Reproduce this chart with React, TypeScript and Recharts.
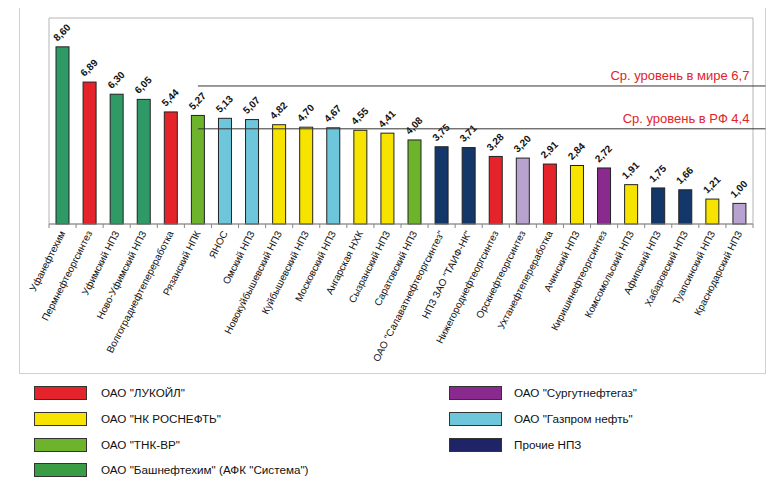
import React from "react";
import { BarChart, Bar, XAxis, YAxis, Cell, ReferenceLine, ReferenceArea } from "recharts";

const categories = [
  "Уфанефтехим",
  "Пермнефтеоргсинтез",
  "Уфимский НПЗ",
  "Ново-Уфимский НПЗ",
  "Волгограднефтепереработка",
  "Рязанский НПК",
  "ЯНОС",
  "Омский НПЗ",
  "Новокуйбышевский НПЗ",
  "Куйбышевский НПЗ",
  "Московский НПЗ",
  "Ангарская НХК",
  "Сызранский НПЗ",
  "Саратовский НПЗ",
  "ОАО \"Салаватнефтеоргсинтез\"",
  "НПЗ ЗАО \"ТАИФ-НК\"",
  "Нижегороднефтеоргсинтез",
  "Орскнефтеоргсинтез",
  "Ухтанефтепереработка",
  "Ачинский НПЗ",
  "Киришинефтеоргсинтез",
  "Комсомольский НПЗ",
  "Афипский НПЗ",
  "Хабаровский НПЗ",
  "Туапсинский НПЗ",
  "Краснодарский НПЗ",
];

const values = [
  8.6, 6.89, 6.3, 6.05, 5.44, 5.27, 5.13, 5.07, 4.82, 4.7, 4.67, 4.55, 4.41,
  4.08, 3.75, 3.71, 3.28, 3.2, 2.91, 2.84, 2.72, 1.91, 1.75, 1.66, 1.21, 1.0,
];

const groups = [
  "bash", "luk", "bash", "bash", "luk", "tnk", "gpn", "gpn", "ros", "ros",
  "gpn", "ros", "ros", "tnk", "other", "other", "luk", "lav", "luk", "ros",
  "surg", "ros", "other", "other", "ros", "lav",
];

const worldLevel = 6.7;
const worldLabel = "Ср. уровень в мире 6,7";
const rfLevel = 4.62;
const rfLabel = "Ср. уровень в РФ 4,4";

const legendLeft = [
  { name: "ОАО \"ЛУКОЙЛ\"", key: "luk" },
  { name: "ОАО \"НК РОСНЕФТЬ\"", key: "ros" },
  { name: "ОАО \"ТНК-ВР\"", key: "tnk" },
  { name: "ОАО \"Башнефтехим\" (АФК \"Система\")", key: "bashLegend" },
];
const legendRight = [
  { name: "ОАО \"Сургутнефтегаз\"", key: "surg" },
  { name: "ОАО \"Газпром нефть\"", key: "gpn" },
  { name: "Прочие НПЗ", key: "otherLegend" },
];

const colors: Record<string, string> = {
  bash: "#2f9a66",
  bashLegend: "#3a9c45",
  luk: "#e4242a",
  tnk: "#6db32c",
  gpn: "#6ec6da",
  ros: "#f6e400",
  other: "#14376a",
  otherLegend: "#1e2466",
  surg: "#8a2a8e",
  lav: "#b8a2cf",
};

const data = categories.map((name, i) => ({ name, value: values[i], group: groups[i] }));

const FONT = "'Liberation Sans', Arial, sans-serif";

const XTick = (props: any) => {
  const { x, y, payload, index } = props;
  const off = payload && payload.offset ? payload.offset : 13.5;
  const tx = x + 3;
  const ty = y + 9;
  return (
    <g>
      <line x1={x - off} y1={y} x2={x - off} y2={y + 4} stroke="#888" />
      {index === categories.length - 1 && (
        <line x1={x + off} y1={y} x2={x + off} y2={y + 4} stroke="#888" />
      )}
      <text
        x={tx}
        y={ty}
        transform={`rotate(-63 ${tx} ${ty})`}
        textAnchor="end"
        fontSize={10}
        fontFamily={FONT}
        fill="#111"
      >
        {payload.value}
      </text>
    </g>
  );
};

const BarWithLabel = (props: any) => {
  const { x, y, width, height, payload } = props;
  const tx = x + width / 2 - 5;
  const ty = y - 5;
  return (
    <g>
      <rect
        x={x}
        y={y}
        width={width}
        height={height}
        fill={colors[payload.group]}
        stroke="#222"
        strokeWidth={1}
      />
      <text
        x={tx}
        y={ty}
        transform={`rotate(-45 ${tx} ${ty})`}
        fontSize={10}
        fontWeight="bold"
        fontFamily={FONT}
        fill="#111"
      >
        {Number(payload.value).toFixed(2).replace(".", ",")}
      </text>
    </g>
  );
};

const makeLevelShape = (label: string) => (p: any) => (
  <g>
    <line x1={p.x1} y1={p.y1} x2={p.x2 + 26} y2={p.y2} stroke="#333" strokeWidth={1} />
    <text
      x={p.x2 + 10}
      y={p.y1 - 6}
      textAnchor="end"
      fontSize={13}
      fontFamily={FONT}
      fill="#e0242b"
    >
      {label}
    </text>
  </g>
);

const LegendItem = ({ name, color, left, top, textLeft }: any) => (
  <div style={{ position: "absolute", left, top, height: 14, width: 300 }}>
    <div
      style={{
        position: "absolute",
        left: 0,
        top: 0,
        width: 51,
        height: 12,
        background: color,
        border: "1px solid #333",
      }}
    />
    <span
      style={{
        position: "absolute",
        left: textLeft,
        top: -1,
        lineHeight: "16px",
        whiteSpace: "nowrap",
        fontSize: 11.7,
        fontFamily: FONT,
        color: "#111",
      }}
    >
      {name}
    </span>
  </div>
);

export default function App() {
  const leftRows = [386, 412, 438, 463];
  const rightRows = [386, 412, 438];
  return (
    <div style={{ position: "relative", width: 777, height: 494, margin: -8, background: "#fff", fontFamily: FONT }}>
      <div
        style={{
          position: "absolute",
          left: 19,
          top: 3,
          width: 745,
          height: 369,
          border: "1px solid #d0d0d0",
        }}
      />
      <div style={{ position: "absolute", left: 0, top: 0 }}>
        <BarChart
          width={777}
          height={380}
          data={data}
          margin={{ top: 18, right: 24, bottom: 6, left: 49 }}
          barCategoryGap={0}
        >
          <XAxis
            dataKey="name"
            interval={0}
            height={150}
            tickSize={0}
            tickMargin={0}
            tickLine={false}
            axisLine={{ stroke: "#888" }}
            tick={<XTick />}
          />
          <YAxis hide domain={[0, 10]} />
          <ReferenceArea y1={0} y2={10} fill="none" stroke="#b5b5b5" strokeWidth={1} ifOverflow="visible" />
          <Bar dataKey="value" barSize={13} isAnimationActive={false} shape={(p: any) => <BarWithLabel {...p} />}>
            {data.map((d, i) => (
              <Cell key={i} fill={colors[d.group]} />
            ))}
          </Bar>
          <ReferenceLine
            segment={[
              { x: categories[5], y: worldLevel },
              { x: categories[categories.length - 1], y: worldLevel },
            ]}
            shape={makeLevelShape(worldLabel)}
          />
          <ReferenceLine
            segment={[
              { x: categories[5], y: rfLevel },
              { x: categories[categories.length - 1], y: rfLevel },
            ]}
            shape={makeLevelShape(rfLabel)}
          />
        </BarChart>
      </div>
      {legendLeft.map((l, i) => (
        <LegendItem key={l.key} name={l.name} color={colors[l.key]} left={34} textLeft={67} top={leftRows[i]} />
      ))}
      {legendRight.map((l, i) => (
        <LegendItem key={l.key} name={l.name} color={colors[l.key]} left={449} textLeft={65} top={rightRows[i]} />
      ))}
    </div>
  );
}
